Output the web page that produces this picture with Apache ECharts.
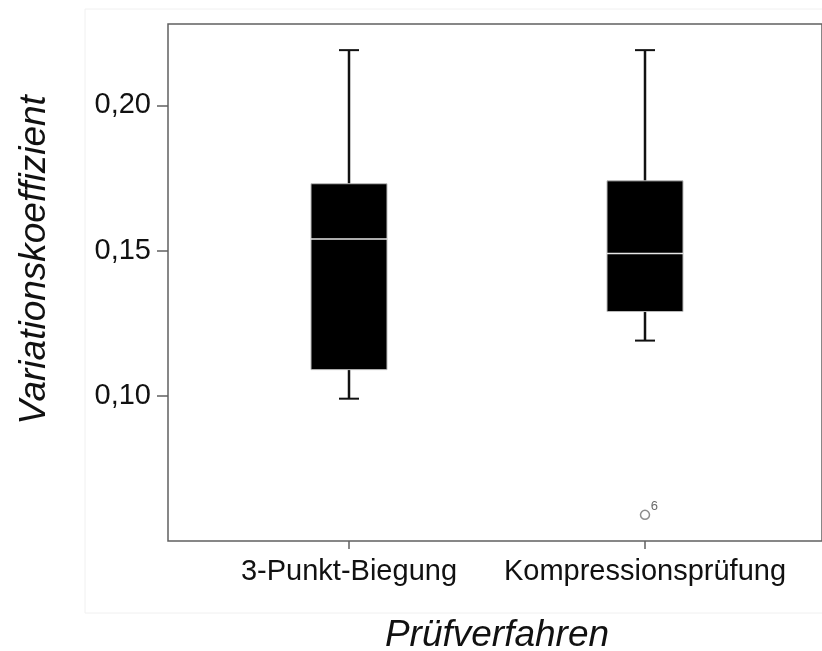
<!DOCTYPE html>
<html>
<head>
<meta charset="utf-8">
<script src="https://cdn.jsdelivr.net/npm/echarts@6/dist/echarts.min.js"></script>
<style>
  html, body { margin: 0; padding: 0; background: #fff; }
  #chart { width: 822px; height: 651px; }
</style>
</head>
<body>
<div id="chart"></div>
<script>
// Werte
const categories = ['3-Punkt-Biegung', 'Kompressionsprüfung'];
const lowWhisker = [0.099, 0.119];
const q1 = [0.109, 0.129];
const median = [0.154, 0.149];
const q3 = [0.173, 0.174];
const highWhisker = [0.219, 0.219];
// Ausreißer: [Kategorie-Index, Wert, Fallnummer]
const outliers = [[1, 0.059, '6']];
const yTicks = [0.10, 0.15, 0.20];

const FONT = '"Liberation Sans", Arial, sans-serif';
const fmt = v => v.toFixed(2).replace('.', ',');

const boxData = categories.map((c, i) => [i, lowWhisker[i], q1[i], median[i], q3[i], highWhisker[i]]);

function renderBox(params, api) {
  const i = api.value(0);
  const pLow = api.coord([i, api.value(1)]);
  const pQ1 = api.coord([i, api.value(2)]);
  const pMed = api.coord([i, api.value(3)]);
  const pQ3 = api.coord([i, api.value(4)]);
  const pHigh = api.coord([i, api.value(5)]);
  const x = pMed[0];
  const halfBox = 38;
  const halfCap = 10;
  const whisker = { stroke: '#111', lineWidth: 2.5 };
  return {
    type: 'group',
    children: [
      { type: 'line', shape: { x1: x, y1: pHigh[1], x2: x, y2: pQ3[1] }, style: whisker },
      { type: 'line', shape: { x1: x, y1: pQ1[1], x2: x, y2: pLow[1] }, style: whisker },
      { type: 'line', shape: { x1: x - halfCap, y1: pHigh[1], x2: x + halfCap, y2: pHigh[1] }, style: { stroke: '#111', lineWidth: 2 } },
      { type: 'line', shape: { x1: x - halfCap, y1: pLow[1], x2: x + halfCap, y2: pLow[1] }, style: { stroke: '#111', lineWidth: 2 } },
      {
        type: 'rect',
        shape: { x: x - halfBox, y: pQ3[1], width: halfBox * 2, height: pQ1[1] - pQ3[1] },
        style: { fill: '#000', stroke: '#bbb', lineWidth: 1 }
      },
      { type: 'line', shape: { x1: x - halfBox, y1: pMed[1], x2: x + halfBox, y2: pMed[1] }, style: { stroke: '#e6e6e6', lineWidth: 1.5 } }
    ]
  };
}

const chart = echarts.init(document.getElementById('chart'), null, { renderer: 'canvas' });

chart.setOption({
  animation: false,
  backgroundColor: '#fff',
  graphic: [
    // schwacher Rahmen des Originalbildes
    { type: 'rect', shape: { x: 85, y: 9, width: 760, height: 604 }, style: { fill: 'none', stroke: '#f0f0f0', lineWidth: 1 }, z: -1 },
    {
      type: 'text', x: 35, y: 260, rotation: Math.PI / 2,
      style: { text: 'Variationskoeffizient', font: 'italic 37px ' + FONT, fill: '#111', align: 'center', verticalAlign: 'middle' }
    },
    {
      type: 'text', x: 497, y: 636,
      style: { text: 'Prüfverfahren', font: 'italic 37px ' + FONT, fill: '#111', align: 'center', verticalAlign: 'middle' }
    }
  ],
  grid: [
    { left: 168, right: -10, top: 24, bottom: 110, show: true, borderColor: '#606060', borderWidth: 1.5, backgroundColor: 'transparent' },
    { left: 201, right: 29, top: 24, bottom: 110 }
  ],
  xAxis: [
    { gridIndex: 0, type: 'value', min: 0, max: 1, show: false },
    {
      gridIndex: 1,
      type: 'category',
      data: categories,
      axisLine: { show: false },
      axisTick: { show: true, alignWithLabel: true, length: 8, lineStyle: { color: '#606060', width: 1.5 } },
      axisLabel: { color: '#111', fontSize: 29, fontFamily: FONT, margin: 16, interval: 0, hideOverlap: false },
      splitLine: { show: false }
    }
  ],
  yAxis: [
    {
      gridIndex: 0,
      type: 'value',
      min: 0.05,
      max: 0.228,
      interval: 0.05,
      axisLine: { show: false },
      axisTick: { show: true, length: 11, customValues: yTicks, lineStyle: { color: '#606060', width: 1.5 } },
      axisLabel: { color: '#111', fontSize: 29, fontFamily: FONT, margin: 17, padding: [4, 0, 0, 0], customValues: yTicks, formatter: fmt },
      splitLine: { show: false }
    },
    { gridIndex: 1, type: 'value', min: 0.05, max: 0.228, show: false }
  ],
  series: [
    {
      type: 'custom',
      xAxisIndex: 1,
      yAxisIndex: 1,
      renderItem: renderBox,
      encode: { x: 0, y: [1, 2, 3, 4, 5] },
      data: boxData
    },
    {
      type: 'scatter',
      xAxisIndex: 1,
      yAxisIndex: 1,
      symbol: 'circle',
      symbolSize: 9,
      itemStyle: { color: '#fff', borderColor: '#707070', borderWidth: 1.5 },
      label: {
        show: true,
        position: [11, -10],
        formatter: p => p.data[2],
        color: '#444',
        fontSize: 13,
        fontFamily: FONT
      },
      data: outliers
    }
  ]
});
</script>
</body>
</html>
